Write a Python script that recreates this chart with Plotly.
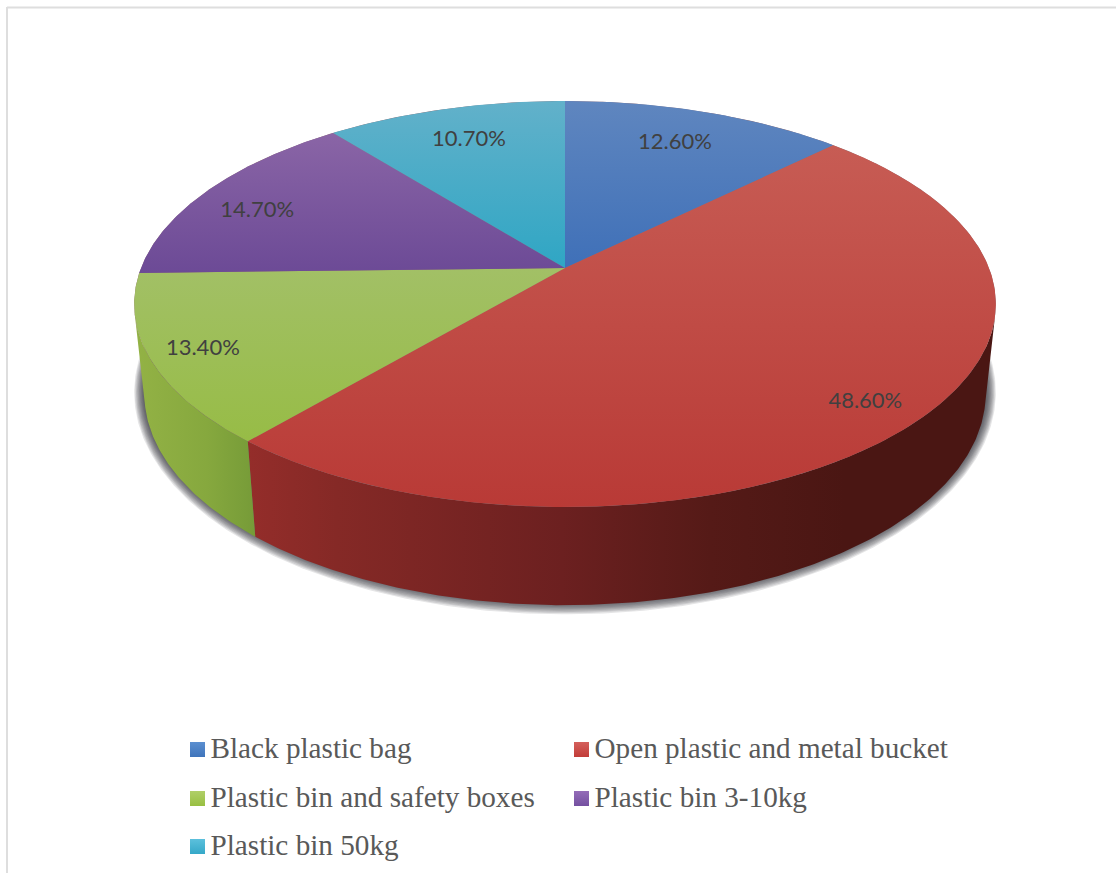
import numpy as np
import plotly.graph_objects as go

# Waste container shares, in percent
categories = ["Black plastic bag", "Open plastic and metal bucket",
              "Plastic bin and safety boxes", "Plastic bin 3-10kg", "Plastic bin 50kg"]
shares = [12.6, 48.6, 13.4, 14.7, 10.7]
share_labels = ["12.60%", "48.60%", "13.40%", "14.70%", "10.70%"]

# Face colours per slice: light upper end, darker lower end
top_light = ["#5f86bf", "#c75c54", "#a2c066", "#8a65a6", "#62b1ca"]
top_dark = ["#3f70b8", "#b93a36", "#97bc46", "#6c4a96", "#2fa6c4"]
swatch_light = ["#5b8fd0", "#d4605c", "#b0cf68", "#946cb8", "#5cc0dc"]
swatch_dark = ["#3f74bb", "#c23c38", "#98bf42", "#7450a0", "#35a8c8"]
label_radius = [0.786, 0.873, 0.881, 0.83, 0.79]
label_turn = [-0.8, 0.7, 0.4, -2.5, 0.3]

WIDTH, HEIGHT = 1116, 873

# Perspective projection of the unit disc on to the page
CX, CY_TOP, A_TOP, B_TOP = 565, 268, 424, 196.6
CY_BOT, A_BOT, B_BOT = 356, 414, 205
K = 0.1773
LABEL_DROP = 2.5


def project(theta_deg, radius=1.0, cy=CY_TOP, a=A_TOP, b=B_TOP):
    t = np.radians(theta_deg)
    x = radius * np.sin(t)
    y = radius * np.cos(t)
    w = 1 + K * y
    return CX + a * x / w, cy - b * y / w


def arc(start, stop, cy=CY_TOP, a=A_TOP, b=B_TOP):
    n = max(int(abs(stop - start) * 2), 2)
    return project(np.linspace(start, stop, n), 1.0, cy, a, b)


bounds = np.concatenate([[0], np.cumsum(shares)]) * 3.6
fig = go.Figure()

# Soft shadow under the disc
for grow in range(10, 0, -1):
    sx, sy = arc(0, 360, CY_BOT - 3, A_BOT + grow, B_BOT + grow)
    fig.add_trace(go.Scatter(x=sx, y=sy, mode="lines", fill="toself", line=dict(width=0),
                             fillcolor="rgba(40,40,50,0.12)", hoverinfo="skip", showlegend=False))


def side(start, stop, stops, name):
    tx, ty = arc(start, stop)
    bx, by = arc(stop, start, CY_BOT, A_BOT, B_BOT)
    x = np.concatenate([tx, bx])
    y = np.concatenate([ty, by])
    fig.add_trace(go.Scatter(
        x=x, y=y, mode="lines", fill="toself", line=dict(width=0), name=name,
        fillgradient=dict(type="horizontal", colorscale=stops, start=x.min(), stop=x.max()),
        hoverinfo="skip", showlegend=False))


# Visible rim of the red and green slices
side(104, bounds[2],
     [[0, "#942d2a"], [0.12, "#852926"], [0.42, "#6c2020"], [0.62, "#551a17"], [0.8, "#4a1613"], [1, "#4a1613"]],
     categories[1])
side(bounds[2], 256, [[0, "#93b245"], [0.6, "#86a83e"], [1, "#769b38"]], categories[2])

# Backing disc closes the hairline seams between neighbouring faces
dx, dy = arc(0, 360)
fig.add_trace(go.Scatter(x=dx, y=dy, mode="lines", fill="toself", line=dict(width=0),
                         fillcolor="#8f6a70", hoverinfo="skip", showlegend=False))

# Top faces
for i, name in enumerate(categories):
    ax, ay = arc(bounds[i], bounds[i + 1])
    x = np.concatenate([[CX], ax, [CX]])
    y = np.concatenate([[CY_TOP], ay, [CY_TOP]])
    fig.add_trace(go.Scatter(
        x=x, y=y, mode="lines", fill="toself", line=dict(width=0), name=name,
        fillgradient=dict(type="vertical", colorscale=[[0, top_light[i]], [1, top_dark[i]]],
                          start=y.min(), stop=y.max()),
        hoverinfo="name", showlegend=False))

# Percentage labels, near each slice's middle angle
for i, text in enumerate(share_labels):
    lx, ly = project((bounds[i] + bounds[i + 1]) / 2 + label_turn[i], label_radius[i])
    fig.add_trace(go.Scatter(x=[lx], y=[ly + LABEL_DROP], mode="text", text=[text],
                             textposition="middle center",
                             textfont=dict(family="Lato", size=22, color="#404040"),
                             hoverinfo="skip", showlegend=False))

# Key laid out as two columns of square swatches with serif captions
col_x = [197.5, 581.5]
row_y = [749.5, 798.5, 846.5]
for i, name in enumerate(categories):
    kx, ky = col_x[i % 2], row_y[i // 2]
    fig.add_trace(go.Scatter(
        x=[kx], y=[ky], mode="markers", name=name,
        marker=dict(symbol="square", size=15, color=swatch_light[i],
                    gradient=dict(type="vertical", color=swatch_dark[i]), line=dict(width=0)),
        hoverinfo="skip", showlegend=False))
    fig.add_trace(go.Scatter(
        x=[kx + 13], y=[ky + 1.5], mode="text", text=[name], textposition="middle right",
        textfont=dict(family="Liberation Serif", size=29.2, color="#595959"),
        hoverinfo="skip", showlegend=False))

fig.update_layout(
    width=WIDTH, height=HEIGHT, margin=dict(l=0, r=0, t=0, b=0),
    paper_bgcolor="white", plot_bgcolor="white", showlegend=False,
    xaxis=dict(range=[0, WIDTH], visible=False, fixedrange=True),
    yaxis=dict(range=[HEIGHT, 0], visible=False, fixedrange=True),
    shapes=[
        dict(type="line", xref="x", yref="y", x0=7, x1=WIDTH, y0=7.5, y1=7.5,
             line=dict(color="#dedede", width=2)),
        dict(type="line", xref="x", yref="y", x0=7, x1=7, y0=7, y1=HEIGHT,
             line=dict(color="#dedede", width=2)),
    ],
)
fig.write_html("out.html")
